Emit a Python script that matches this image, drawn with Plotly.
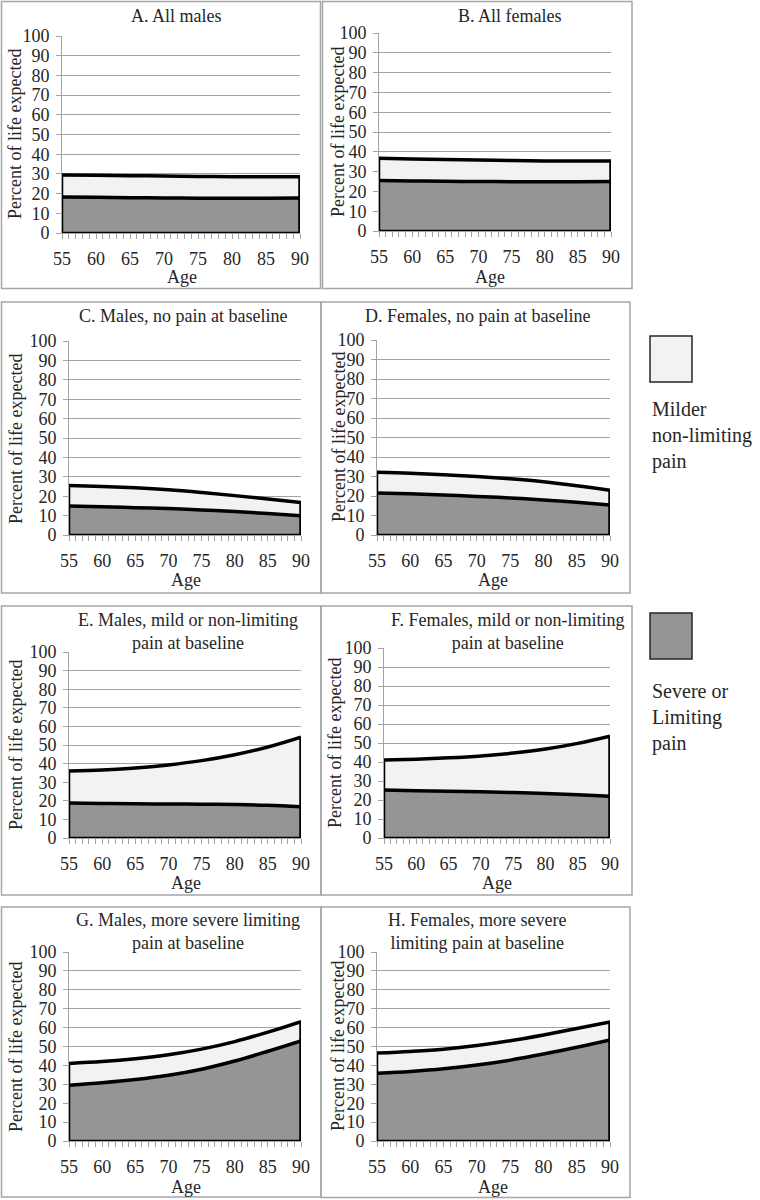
import plotly.graph_objects as go

W, H = 760, 1200

ages = [55, 60, 65, 70, 75, 80, 85, 90]
x_ticks = [55, 60, 65, 70, 75, 80, 85, 90]
y_ticks = [0, 10, 20, 30, 40, 50, 60, 70, 80, 90, 100]

# Severe or limiting pain (bottom band) and total (severe + milder) per panel
sev_A = [18.3, 18.1, 17.9, 17.8, 17.7, 17.7, 17.7, 17.8]
tot_A = [29.5, 29.3, 29.1, 28.9, 28.7, 28.6, 28.5, 28.5]
sev_B = [25.5, 25.3, 25.1, 25.0, 24.9, 24.9, 24.9, 25.0]
tot_B = [36.7, 36.4, 36.1, 35.8, 35.6, 35.4, 35.3, 35.3]
sev_C = [15.0, 14.6, 14.1, 13.6, 12.9, 12.1, 11.1, 9.9]
tot_C = [25.5, 25.0, 24.3, 23.3, 21.9, 20.3, 18.6, 16.8]
sev_D = [21.5, 21.1, 20.5, 19.8, 19.0, 18.0, 16.8, 15.4]
tot_D = [32.2, 31.7, 30.9, 30.0, 28.8, 27.3, 25.3, 23.0]
sev_E = [18.8, 18.6, 18.4, 18.3, 18.2, 18.0, 17.6, 16.8]
tot_E = [36.0, 36.6, 37.6, 39.3, 41.6, 44.8, 48.9, 54.2]
sev_F = [25.2, 24.9, 24.6, 24.3, 23.9, 23.4, 22.8, 22.0]
tot_F = [41.0, 41.5, 42.2, 43.2, 44.7, 46.8, 49.8, 53.6]
sev_G = [29.5, 30.8, 32.5, 34.8, 38.0, 42.3, 47.5, 53.0]
tot_G = [41.0, 42.0, 43.5, 45.6, 48.6, 52.6, 57.6, 63.2]
sev_H = [35.8, 36.8, 38.2, 40.2, 42.8, 46.0, 49.6, 53.5]
tot_H = [46.5, 47.4, 48.6, 50.5, 53.0, 56.1, 59.5, 63.0]

titles = [
    "A. All males",
    "B. All females",
    "C. Males, no pain at baseline",
    "D. Females, no pain at baseline",
    "E. Males, mild or non-limiting<br>pain at baseline",
    "F. Females, mild or non-limiting<br>pain at baseline",
    "G. Males, more severe limiting<br>pain at baseline",
    "H. Females, more severe<br>limiting pain at baseline",
]
severe = [sev_A, sev_B, sev_C, sev_D, sev_E, sev_F, sev_G, sev_H]
total = [tot_A, tot_B, tot_C, tot_D, tot_E, tot_F, tot_G, tot_H]

legend_labels = ["Milder<br>non-limiting<br>pain", "Severe or<br>Limiting<br>pain"]

# ---- layout geometry (pixels, top-down) ----
plot_px = [  # x0, x1, y_top(100), y_bottom(0)
    (62, 300, 36, 233),
    (379, 611, 33, 231),
    (69, 301, 341, 535),
    (377, 610, 340, 535),
    (69, 301, 652, 838),
    (384, 610, 648, 838),
    (69, 301, 952, 1141),
    (377, 610, 952, 1141),
]
box_px = [
    (1.5, 1.5, 320.5, 288.5),
    (322.5, 1.5, 632, 288.5),
    (1.5, 302, 321, 593),
    (321, 302, 630, 593),
    (1.5, 606, 321, 895),
    (321, 606, 632, 895),
    (1.5, 907, 321, 1197),
    (321, 907, 630, 1197.5),
]
title_px = [(176, 16), (509, 16), (183, 316), (477, 316),
            (188, 631), (508, 631), (188, 932), (477, 932)]
ytitle_px = [(15, 134), (338, 132), (16, 439), (339, 437),
             (16, 745), (335, 743), (16, 1047), (338, 1046)]
agetitle_px = [(182, 277), (490, 277), (186, 580), (493, 580),
               (186, 883), (497, 883), (186, 1187), (493, 1187)]

FONT = "Liberation Serif, Times New Roman, serif"
TXT = "#262626"
GRID = "#a3a3a3"
DARK = "#959595"
LIGHT = "#f2f2f2"

def px_x(x):
    return x / W

def px_y(y):
    return 1 - y / H

fig = go.Figure()
layout = dict(template="none", width=W, height=H,
              margin=dict(l=0, r=0, t=0, b=0, pad=0, autoexpand=False),
              paper_bgcolor="white", plot_bgcolor="white", showlegend=False,
              font=dict(family=FONT, size=17, color=TXT))
shapes = []
annotations = []

for i in range(8):
    n = i + 1
    xa = "x" if n == 1 else f"x{n}"
    ya = "y" if n == 1 else f"y{n}"
    x0, x1, yt, yb = plot_px[i]
    sev = severe[i]
    tot = total[i]
    fig.add_trace(go.Scatter(x=ages, y=sev, mode="lines", fill="tozeroy",
                             fillcolor=DARK, line=dict(color="black", width=3.5, shape="spline"),
                             xaxis=xa, yaxis=ya, hoverinfo="skip"))
    fig.add_trace(go.Scatter(x=ages, y=tot, mode="lines", fill="tonexty",
                             fillcolor=LIGHT, line=dict(color="black", width=3.5, shape="spline"),
                             xaxis=xa, yaxis=ya, hoverinfo="skip"))
    # right edge of the stacked areas
    fig.add_trace(go.Scatter(x=[ages[-1], ages[-1]], y=[0, tot[-1]], mode="lines",
                             line=dict(color="black", width=3.5),
                             xaxis=xa, yaxis=ya, hoverinfo="skip"))
    # left and bottom edges
    fig.add_trace(go.Scatter(x=[ages[0], ages[0], ages[-1]], y=[tot[0], 0, 0], mode="lines",
                             line=dict(color="black", width=2.5),
                             xaxis=xa, yaxis=ya, hoverinfo="skip"))

    xkey = "xaxis" if n == 1 else f"xaxis{n}"
    ykey = "yaxis" if n == 1 else f"yaxis{n}"
    layout[xkey] = dict(domain=[px_x(x0), px_x(x1)], anchor=ya, range=[55, 90],
                        tickvals=x_ticks, ticks="outside", ticklen=5, tickcolor=GRID,
                        showline=True, linecolor=GRID, linewidth=1, showgrid=False,
                        zeroline=False, ticklabelstandoff=4, automargin=False,
                        minor=dict(dtick=1, tick0=55, ticks="outside", ticklen=5,
                                   tickcolor=GRID, showgrid=False),
                        tickfont=dict(family=FONT, size=18, color=TXT), fixedrange=True)
    layout[ykey] = dict(domain=[px_y(yb), px_y(yt)], anchor=xa, range=[0, 100],
                        tickvals=y_ticks, ticks="outside", ticklen=5, tickcolor=GRID,
                        showline=True, linecolor=GRID, linewidth=1,
                        showgrid=True, gridcolor=GRID, gridwidth=1, zeroline=False,
                        ticklabelstandoff=3, automargin=False,
                        tickfont=dict(family=FONT, size=18, color=TXT), fixedrange=True)

    bx0, by0, bx1, by1 = box_px[i]
    shapes.append(dict(type="rect", xref="paper", yref="paper",
                       x0=px_x(bx0), x1=px_x(bx1), y0=px_y(by1), y1=px_y(by0),
                       line=dict(color="#a6a6a6", width=1.5), fillcolor="rgba(0,0,0,0)",
                       layer="below"))
    tx, ty = title_px[i]
    annotations.append(dict(text=titles[i], x=px_x(tx), y=px_y(ty), xref="paper", yref="paper",
                            showarrow=False, xanchor="center", yanchor="middle",
                            font=dict(family=FONT, size=18, color=TXT)))
    ax_, ay_ = ytitle_px[i]
    annotations.append(dict(text="Percent of life expected", x=px_x(ax_), y=px_y(ay_),
                            xref="paper", yref="paper", showarrow=False, textangle=-90,
                            xanchor="center", yanchor="middle",
                            font=dict(family=FONT, size=18, color=TXT)))
    gx, gy = agetitle_px[i]
    annotations.append(dict(text="Age", x=px_x(gx), y=px_y(gy), xref="paper", yref="paper",
                            showarrow=False, xanchor="center", yanchor="middle",
                            font=dict(family=FONT, size=18, color=TXT)))

# legend swatches and labels
leg_boxes = [(650, 336, 692, 382, LIGHT), (650, 613, 692, 659, DARK)]
leg_text_y = [436, 717]
for (lx0, ly0, lx1, ly1, col), lab, ty in zip(leg_boxes, legend_labels, leg_text_y):
    shapes.append(dict(type="rect", xref="paper", yref="paper",
                       x0=px_x(lx0), x1=px_x(lx1), y0=px_y(ly1), y1=px_y(ly0),
                       line=dict(color="#262626", width=1.5), fillcolor=col))
    annotations.append(dict(text=lab, x=px_x(650), y=px_y(ty), xref="paper", yref="paper",
                            showarrow=False, xanchor="left", yanchor="middle", align="left",
                            font=dict(family=FONT, size=20, color=TXT)))

layout["shapes"] = shapes
layout["annotations"] = annotations
fig.update_layout(**layout)
fig.write_html("out.html", config={"displayModeBar": False},
               post_script="document.body.style.margin='0';document.body.style.padding='0';"
                           "document.documentElement.style.overflow='hidden';")
